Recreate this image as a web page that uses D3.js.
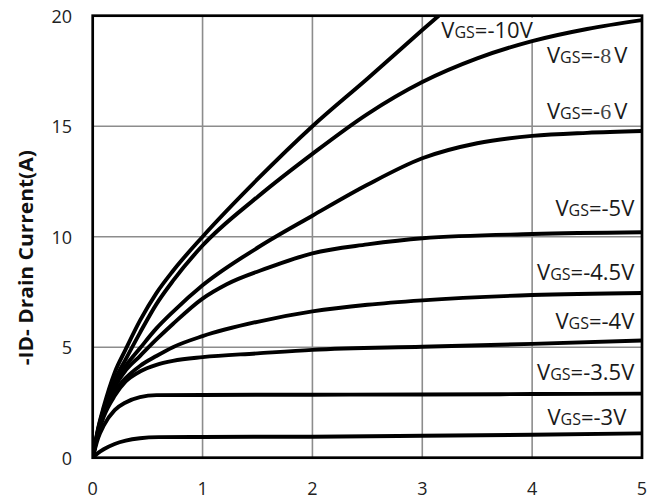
<!DOCTYPE html>
<html>
<head>
<meta charset="utf-8">
<script src="https://cdn.jsdelivr.net/npm/d3@7"></script>
<style>
  body { margin: 0; background: #fff; }
  svg { display: block; }
</style>
</head>
<body>
<svg width="665" height="499"></svg>
<script>
// -VDS (V) / -ID (A) pairs
const vgs10 = [[0,0],[0.05,1.35],[0.1,2.3],[0.2,3.85],[0.3,4.9],[0.43,6.2],[0.58,7.45],[0.73,8.45],[1,10.0],[1.5,12.6],[2,15.0],[2.5,17.15],[3,19.35],[3.15,20]];
const vgs8  = [[0,0],[0.05,1.3],[0.1,2.2],[0.2,3.5],[0.3,4.45],[0.43,5.65],[0.58,6.95],[0.73,8.0],[1,9.6],[1.5,11.8],[2,13.75],[2.5,15.55],[3,17.0],[3.5,18.07],[4,18.85],[4.5,19.4],[5,19.8]];
const vgs6  = [[0,0],[0.05,1.25],[0.1,2.1],[0.2,3.35],[0.3,4.15],[0.43,4.95],[0.58,5.85],[0.73,6.6],[1,7.8],[1.5,9.5],[2,10.95],[2.5,12.35],[3,13.55],[3.5,14.23],[4,14.56],[4.5,14.7],[5,14.78]];
const vgs5  = [[0,0],[0.05,1.2],[0.1,2.0],[0.2,3.2],[0.3,3.95],[0.43,4.6],[0.58,5.35],[0.73,6.05],[1,7.2],[1.22,7.85],[1.6,8.6],[2,9.25],[2.5,9.65],[3,9.93],[4,10.12],[5,10.2]];
const vgs45 = [[0,0],[0.05,1.15],[0.1,1.95],[0.2,3.0],[0.3,3.6],[0.43,4.15],[0.58,4.6],[0.73,5.0],[1,5.5],[1.5,6.15],[2,6.62],[2.5,6.92],[3,7.12],[4,7.36],[5,7.45]];
const vgs4  = [[0,0],[0.05,1.1],[0.1,1.85],[0.2,2.8],[0.3,3.45],[0.43,3.9],[0.58,4.2],[0.73,4.38],[1,4.55],[1.5,4.72],[2,4.88],[3,5.02],[4,5.15],[5,5.3]];
const vgs35 = [[0,0],[0.05,0.9],[0.1,1.45],[0.2,2.15],[0.3,2.5],[0.43,2.74],[0.58,2.83],[1,2.84],[2,2.85],[3,2.86],[4,2.88],[5,2.9]];
const vgs3  = [[0,0],[0.05,0.22],[0.1,0.38],[0.2,0.62],[0.3,0.77],[0.43,0.88],[0.6,0.93],[1,0.94],[2,0.95],[3,0.99],[4,1.04],[5,1.1]];

const series = [vgs10, vgs8, vgs6, vgs5, vgs45, vgs4, vgs35, vgs3];
const vgsValues = ["-10", "-8", "-6", "-5", "-4.5", "-4", "-3.5", "-3"];

const xTicks = [0, 1, 2, 3, 4, 5];
const yTicks = [0, 5, 10, 15, 20];
const yTitle = "-ID- Drain Current(A)";

let svg = d3.select("svg");

const plot = { left: 92.7, right: 642, top: 15.7, bottom: 457.7 };

let x = d3.scaleLinear().domain([0, 5]).range([plot.left, plot.right]);
let y = d3.scaleLinear().domain([0, 20]).range([plot.bottom, plot.top]);

// grid
svg.append("g")
    .selectAll("line")
    .data(xTicks.slice(1, -1))
    .enter()
    .append("line")
    .attr("x1", (d) => x(d))
    .attr("x2", (d) => x(d))
    .attr("y1", plot.top)
    .attr("y2", plot.bottom)
    .attr("stroke", "#8c8c8c")
    .attr("stroke-width", 1.6);

svg.append("g")
    .selectAll("line")
    .data(yTicks.slice(1, -1))
    .enter()
    .append("line")
    .attr("x1", plot.left)
    .attr("x2", plot.right)
    .attr("y1", (d) => y(d))
    .attr("y2", (d) => y(d))
    .attr("stroke", "#8c8c8c")
    .attr("stroke-width", 1.6);

// where each label sits (right end, baseline) in data units
const labelAt = [[4.006, 19.0], [4.866, 17.86], [4.866, 15.33], [4.93, 10.94], [4.93, 8.04], [4.93, 5.84], [4.93, 3.52], [4.857, 1.48]];

let boxes = svg.append("g");

let labels = svg.append("g")
    .attr("font-family", "'Open Sans', sans-serif")
    .attr("font-size", 22)
    .attr("fill", "#1a1a1a");

vgsValues.forEach((v, i) => {
    const t = labels.append("text")
        .attr("x", x(labelAt[i][0]))
        .attr("y", y(labelAt[i][1]))
        .attr("text-anchor", "end");
    t.append("tspan").text("V");
    t.append("tspan").attr("font-size", 16).text("GS");
    if (v == "-8" || v == "-6") {
        // the single digit is set in another face in the original
        t.append("tspan").text("=-");
        t.append("tspan")
            .attr("font-family", "'Liberation Serif', serif")
            .attr("fill", "#444")
            .text(v.slice(1));
        t.append("tspan").attr("dx", 3).text("V");
    } else {
        t.append("tspan").text("=" + v + "V");
    }
    const b = t.node().getBBox();
    boxes.append("rect")
        .attr("x", b.x - 3)
        .attr("y", b.y + 4)
        .attr("width", b.width + 6)
        .attr("height", b.height - 6)
        .attr("fill", "#fff");
});

// curves
svg.append("clipPath").attr("id", "plotclip")
    .append("rect")
    .attr("x", plot.left)
    .attr("y", plot.top)
    .attr("width", plot.right - plot.left)
    .attr("height", plot.bottom - plot.top);

let line = d3.line()
    .x((d) => x(d[0]))
    .y((d) => y(d[1]))
    .curve(d3.curveMonotoneX);

svg.append("g")
    .attr("clip-path", "url(#plotclip)")
    .selectAll("path")
    .data(series)
    .enter()
    .append("path")
    .attr("d", line)
    .attr("fill", "none")
    .attr("stroke", "#000")
    .attr("stroke-width", 3.9)
    .attr("stroke-linejoin", "round");

labels.raise();

// frame
svg.append("rect")
    .attr("x", plot.left)
    .attr("y", plot.top)
    .attr("width", plot.right - plot.left)
    .attr("height", plot.bottom - plot.top)
    .attr("fill", "none")
    .attr("stroke", "#000")
    .attr("stroke-width", 2.7);

// tick labels
svg.append("g")
    .attr("font-family", "'Open Sans', sans-serif")
    .attr("font-size", 18)
    .attr("fill", "#222")
    .selectAll("text")
    .data(xTicks)
    .enter()
    .append("text")
    .attr("x", (d) => x(d))
    .attr("y", plot.bottom + 30)
    .attr("text-anchor", "middle")
    .attr("dominant-baseline", "central")
    .text((d) => d);

svg.append("g")
    .attr("font-family", "'Open Sans', sans-serif")
    .attr("font-size", 18)
    .attr("fill", "#222")
    .selectAll("text")
    .data(yTicks)
    .enter()
    .append("text")
    .attr("x", 72)
    .attr("y", (d) => y(d))
    .attr("text-anchor", "end")
    .attr("dominant-baseline", "central")
    .text((d) => d);

// axis title
svg.append("text")
    .attr("transform", "translate(26," + ((plot.top + plot.bottom) / 2 + 21) + ") rotate(-90)")
    .attr("text-anchor", "middle")
    .attr("dominant-baseline", "central")
    .attr("font-family", "'Open Sans', sans-serif")
    .attr("font-weight", "bold")
    .attr("font-size", 19)
    .attr("fill", "#111")
    .attr("textLength", 215)
    .attr("lengthAdjust", "spacingAndGlyphs")
    .text(yTitle);
</script>
</body>
</html>
